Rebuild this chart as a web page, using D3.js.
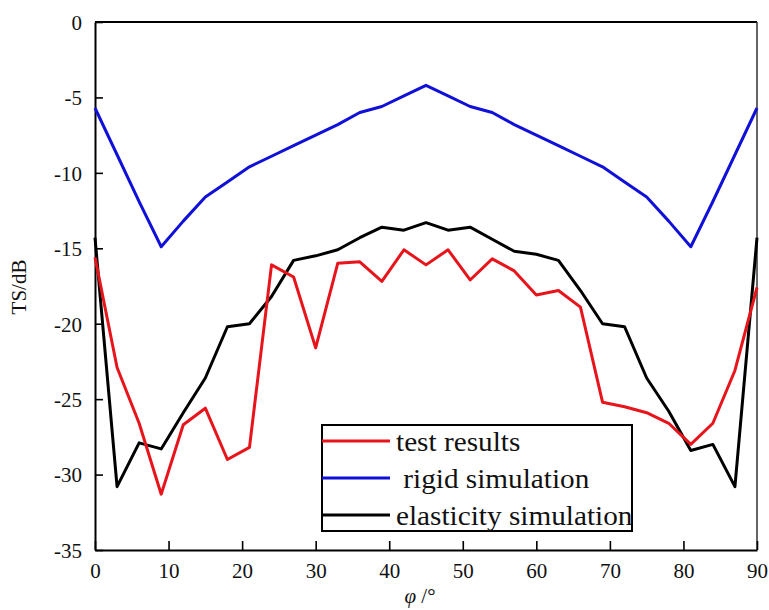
<!DOCTYPE html>
<html>
<head>
<meta charset="utf-8">
<script src="https://cdn.jsdelivr.net/npm/d3@7"></script>
<style>
  body { margin: 0; background: #fff; }
  svg, svg text { font-family: "Liberation Serif", "Times New Roman", "DejaVu Serif", serif; }
</style>
</head>
<body>
<div id="chart"></div>
<script>
(function() {
  var WIDTH = 769, HEIGHT = 610;
  var FONT = '"Liberation Serif", "Times New Roman", "DejaVu Serif", serif';

  var angles = d3.range(0, 91, 3);
  var testResults = [-15.6, -22.9, -26.6, -31.3, -26.7, -25.6, -29.0, -28.2, -16.1, -16.9,
    -21.6, -16.0, -15.9, -17.2, -15.1, -16.1, -15.1, -17.1, -15.7, -16.5,
    -18.1, -17.8, -18.9, -25.2, -25.5, -25.9, -26.6, -28.0, -26.6, -23.1, -17.6];
  var rigidSim = [-5.7, -8.8, -11.9, -14.9, -13.2, -11.6, -10.6, -9.6, -8.9, -8.2,
    -7.5, -6.8, -6.0, -5.6, -4.9, -4.2, -4.9, -5.6, -6.0, -6.8,
    -7.5, -8.2, -8.9, -9.6, -10.6, -11.6, -13.2, -14.9, -11.9, -8.8, -5.7];
  var elasticSim = [-14.3, -30.8, -27.9, -28.3, -25.9, -23.6, -20.2, -20.0, -18.2, -15.8,
    -15.5, -15.1, -14.3, -13.6, -13.8, -13.3, -13.8, -13.6, -14.4, -15.2,
    -15.4, -15.8, -17.8, -20.0, -20.2, -23.6, -25.8, -28.4, -28.0, -30.8, -14.3];
  var seriesNames = ['test results', ' rigid simulation', 'elasticity simulation'];
  var seriesColors = ['#e8141b', '#1010d8', '#000'];
  var xTicks = d3.range(0, 91, 10);
  var yTicks = d3.range(0, -36, -5);

  var left = 95, right = 757, top = 22, bottom = 550;

  var svg = d3.select('#chart').append('svg')
    .attr('width', WIDTH)
    .attr('height', HEIGHT)
    .attr('font-family', FONT);

  var x = d3.scaleLinear().domain([0, 90]).range([left, right]);
  var y = d3.scaleLinear().domain([-35, 0]).range([bottom, top]);

  // frame: top and right
  svg.append('line')
    .attr('x1', left).attr('x2', right).attr('y1', top).attr('y2', top)
    .attr('stroke', '#000').attr('stroke-width', 2);
  svg.append('line')
    .attr('x1', right).attr('x2', right).attr('y1', top).attr('y2', bottom)
    .attr('stroke', '#333').attr('stroke-width', 1.5);

  // plain hyphen for negatives, like the original
  var fmt = function(d) { return String(d); };

  var xAxis = svg.append('g')
    .attr('transform', 'translate(0,' + bottom + ')')
    .call(d3.axisBottom(x).tickValues(xTicks).tickFormat(fmt)
      .tickSizeInner(-9).tickSizeOuter(0).tickPadding(13));
  var yAxis = svg.append('g')
    .attr('transform', 'translate(' + left + ',0)')
    .call(d3.axisLeft(y).tickValues(yTicks).tickFormat(fmt)
      .tickSizeInner(-8).tickSizeOuter(0).tickPadding(13));

  [xAxis, yAxis].forEach(function(g) {
    g.attr('font-family', FONT).attr('font-size', 21);
    g.select('.domain').attr('stroke', '#000').attr('stroke-width', 2);
    g.selectAll('.tick line').attr('stroke', '#000').attr('stroke-width', 1.6);
    g.selectAll('.tick text').attr('fill', '#111');
  });
  xAxis.selectAll('.tick text').attr('dy', '0.71em');
  yAxis.selectAll('.tick text').attr('dy', '0.35em');

  var line = d3.line()
    .x(function(d, i) { return x(angles[i]); })
    .y(function(d) { return y(d); });

  [rigidSim, elasticSim, testResults].forEach(function(s) {
    var c = s === testResults ? seriesColors[0] : s === rigidSim ? seriesColors[1] : seriesColors[2];
    svg.append('path')
      .datum(s)
      .attr('d', line)
      .attr('fill', 'none')
      .attr('stroke', c)
      .attr('stroke-width', 3)
      .attr('stroke-linejoin', 'round');
  });

  // legend
  var legend = svg.append('g');
  legend.append('rect')
    .attr('x', 322).attr('y', 425).attr('width', 310).attr('height', 106)
    .attr('fill', '#fff').attr('stroke', '#000').attr('stroke-width', 2);
  seriesNames.forEach(function(name, i) {
    var ly = 441 + i * 37;
    legend.append('line')
      .attr('x1', 322).attr('x2', 390).attr('y1', ly).attr('y2', ly)
      .attr('stroke', seriesColors[i]).attr('stroke-width', 3);
    legend.append('text')
      .attr('transform', 'translate(396,' + (ly + 10) + ') scale(1.045,1)')
      .attr('font-size', 28)
      .attr('fill', '#111')
      .style('white-space', 'pre')
      .text(name);
  });

  // axis titles
  svg.append('text')
    .attr('transform', 'translate(26,287) rotate(-90)')
    .attr('text-anchor', 'middle')
    .attr('font-size', 21)
    .attr('fill', '#111')
    .text('TS/dB');
  var xt = svg.append('text')
    .attr('x', 420).attr('y', 603)
    .attr('text-anchor', 'middle')
    .attr('font-size', 21)
    .attr('fill', '#111');
  xt.append('tspan').attr('font-style', 'italic').text('φ');
  xt.append('tspan').text(' /°');
})();
</script>
</body>
</html>
